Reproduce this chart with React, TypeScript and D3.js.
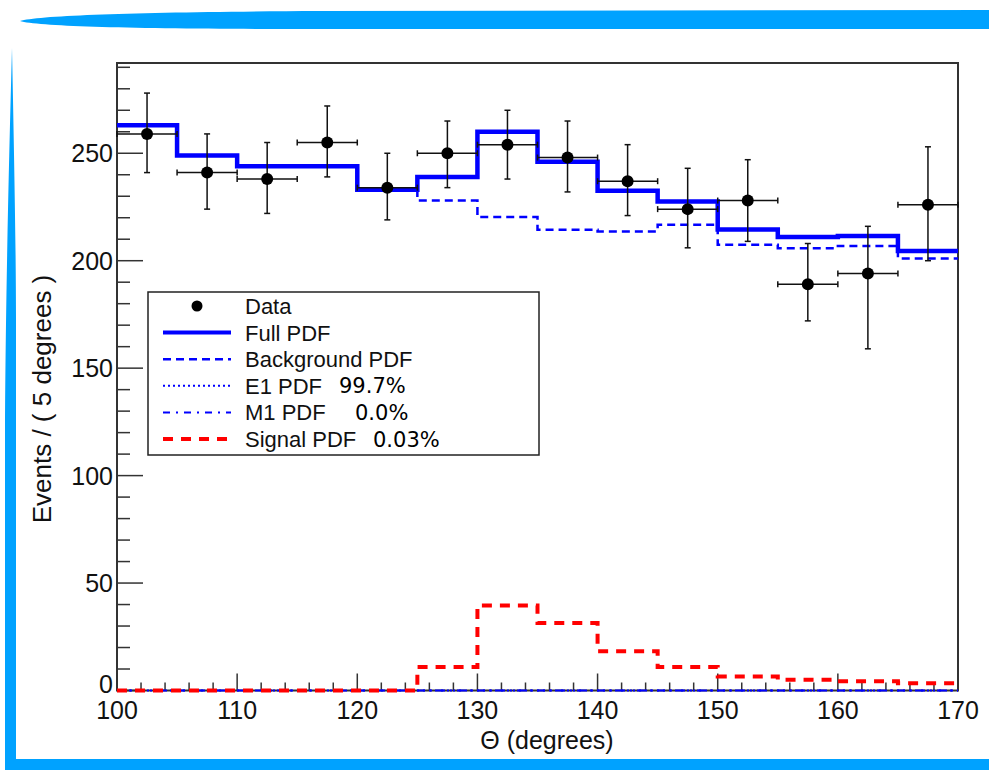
import React from "react";
import * as d3 from "d3";

const binCenters = [102.5, 107.5, 112.5, 117.5, 122.5, 127.5, 132.5, 137.5, 142.5, 147.5, 152.5, 157.5, 162.5, 167.5];
const binEdges = [100, 105, 110, 115, 120, 125, 130, 135, 140, 145, 150, 155, 160, 165, 170];
const dataVals = [259, 241, 238, 255, 234, 250, 254, 248, 237, 224, 228, 189, 194, 226];
const dataHi = [278, 259, 255, 272, 250, 265, 270, 265, 254, 243, 247, 208, 216, 253];
const dataLo = [241, 224, 222, 239, 219, 234, 238, 232, 221, 206, 209, 172, 159, 200];
const fullPdf = [263, 249, 244, 244, 233, 239, 260, 246, 232.5, 227.5, 214.5, 211, 211.5, 204.5];
const bgPdf = [263, 249, 244, 244, 233, 228, 220.3, 214.4, 213.6, 216.7, 207.4, 205.8, 206.9, 201];
const e1Pdf = [0, 0, 0, 0, 0, 0, 0, 0, 0, 0, 0, 0, 0, 0];
const m1Pdf = [0, 0, 0, 0, 0, 0, 0, 0, 0, 0, 0, 0, 0, 0];
const signalPdf = [0, 0, 0, 0, 0, 10.9, 39.6, 31.4, 18.3, 10.9, 6.5, 5.0, 4.3, 3.4];
const xTicks = [100, 110, 120, 130, 140, 150, 160, 170];
const yTicks = [0, 50, 100, 150, 200, 250];
const legendLabels = ["Data", "Full PDF", "Background PDF", "E1 PDF", "M1 PDF", "Signal PDF"];
const legendPercents = ["", "", "", "99.7%", "0.0%", "0.03%"];

const W = 989, H = 770;
const L = 117, R = 958, T = 63, B = 690.5;
const x = d3.scaleLinear().domain([100, 170]).range([L, R]);
const y = d3.scaleLinear().domain([0, 292]).range([B, T]);

const step = (vals: number[]) => {
  const pts: [number, number][] = vals.map((v, i) => [binEdges[i], v]);
  pts.push([binEdges[binEdges.length - 1], vals[vals.length - 1]]);
  return d3.line<[number, number]>().x(d => x(d[0])).y(d => y(d[1])).curve(d3.curveStepAfter)(pts) || "";
};

const BLUE = "#0000ff";
const RED = "#ff0000";
const SKY = "#00a2ff";
const FONT = "'Liberation Sans', Arial, Helvetica, sans-serif";

export default function App() {
  const minorY = d3.range(0, 292, 10);
  const minorX = d3.range(100, 170.001, 2);
  const legX0 = 148, legY0 = 292, legW = 391, legH = 163;
  const rowY = (i: number) => 306 + i * 26.6;
  const pctX = [0, 0, 0, 339, 355, 373];
  return (
    <svg width={W} height={H} style={{ position: "absolute", left: 0, top: 0, background: "#fff" }}>
      {/* decorative frame */}
      <path d="M20,21 C40,15 150,12 320,11 L989,10 L989,29 L320,29 C150,29 40,27 20,21 Z" fill={SKY} />
      <path d="M12,48 C14,150 16,250 16,320 L16,770 L5,770 L5,420 C6,280 9,160 12,48 Z" fill={SKY} />
      <rect x={5} y={759} width={984} height={11} fill={SKY} />

      {/* frame */}
      <rect x={L} y={T} width={R - L} height={B - T} fill="#fff" stroke="#333" strokeWidth={2} />

      {/* y ticks */}
      {minorY.map(v => (
        <line key={"ym" + v} x1={L} x2={L + (v % 50 === 0 ? 26 : 13)} y1={y(v)} y2={y(v)} stroke="#333" strokeWidth={1.5} />
      ))}
      {yTicks.map(v => (
        <text key={"yl" + v} x={113} y={y(v) - (v === 0 ? 7 : 0)} dy="0.36em" textAnchor="end" fontFamily={FONT} fontSize={25} fill="#111">{v}</text>
      ))}
      {/* x ticks */}
      {minorX.map(v => (
        <line key={"xm" + v} x1={x(v)} x2={x(v)} y1={B} y2={B - (Math.round(v) % 10 === 0 ? 17 : 8)} stroke="#333" strokeWidth={1.5} />
      ))}
      {xTicks.map(v => (
        <text key={"xl" + v} x={x(v)} y={719} textAnchor="middle" fontFamily={FONT} fontSize={25} fill="#111">{v}</text>
      ))}

      {/* axis titles */}
      <text x={547} y={749} textAnchor="middle" fontFamily={FONT} fontSize={25} fill="#111">Θ (degrees)</text>
      <text transform="translate(51,399) rotate(-90)" textAnchor="middle" fontFamily={FONT} fontSize={26} fill="#111">Events / ( 5 degrees )</text>

      {/* curves */}
      <path d={step(e1Pdf)} fill="none" stroke={BLUE} strokeWidth={2} strokeDasharray="2,4" />
      <path d={step(m1Pdf)} fill="none" stroke={BLUE} strokeWidth={2} strokeDasharray="8,5,2,5" />
      <path d={step(signalPdf)} fill="none" stroke={RED} strokeWidth={4} strokeDasharray="10,8" />
      <path d={step(bgPdf)} fill="none" stroke={BLUE} strokeWidth={2.5} strokeDasharray="8,5" />
      <path d={step(fullPdf)} fill="none" stroke={BLUE} strokeWidth={4.5} />

      {/* data */}
      {binCenters.map((c, i) => {
        const cx = x(c), cy = y(dataVals[i]);
        const xl = x(c - 2.5), xr = x(c + 2.5);
        return (
          <g key={"d" + i} stroke="#111" strokeWidth={1.5}>
            <line x1={cx} x2={cx} y1={y(dataHi[i])} y2={y(dataLo[i])} />
            <line x1={xl} x2={xr} y1={cy} y2={cy} />
            <line x1={cx - 3} x2={cx + 3} y1={y(dataHi[i])} y2={y(dataHi[i])} />
            <line x1={cx - 3} x2={cx + 3} y1={y(dataLo[i])} y2={y(dataLo[i])} />
            <line x1={xl} x2={xl} y1={cy - 3} y2={cy + 3} />
            <line x1={xr} x2={xr} y1={cy - 3} y2={cy + 3} />
            <circle cx={cx} cy={cy} r={6} fill="#000" stroke="none" />
          </g>
        );
      })}

      {/* legend */}
      <rect x={legX0} y={legY0} width={legW} height={legH} fill="#fff" stroke="#222" strokeWidth={1.5} />
      <circle cx={197} cy={rowY(0)} r={5.5} fill="#000" />
      <line x1={163} x2={231} y1={rowY(1)} y2={rowY(1)} stroke={BLUE} strokeWidth={4} />
      <line x1={163} x2={231} y1={rowY(2)} y2={rowY(2)} stroke={BLUE} strokeWidth={2.5} strokeDasharray="8,5" />
      <line x1={163} x2={231} y1={rowY(3)} y2={rowY(3)} stroke={BLUE} strokeWidth={2} strokeDasharray="2,3" />
      <line x1={163} x2={231} y1={rowY(4)} y2={rowY(4)} stroke={BLUE} strokeWidth={2} strokeDasharray="7,6,2,6" />
      <line x1={163} x2={231} y1={rowY(5)} y2={rowY(5)} stroke={RED} strokeWidth={4} strokeDasharray="10,8" />
      {legendLabels.map((t, i) => (
        <text key={"lt" + i} x={245} y={rowY(i)} dy="0.36em" fontFamily={FONT} fontSize={22} fill="#111">{t}</text>
      ))}
      {legendPercents.map((t, i) => t ? (
        <text key={"lp" + i} x={pctX[i]} y={rowY(i)} dy="0.36em" fontFamily="'DejaVu Sans', sans-serif" fontSize={21} fill="#000">{t}</text>
      ) : null)}
    </svg>
  );
}
